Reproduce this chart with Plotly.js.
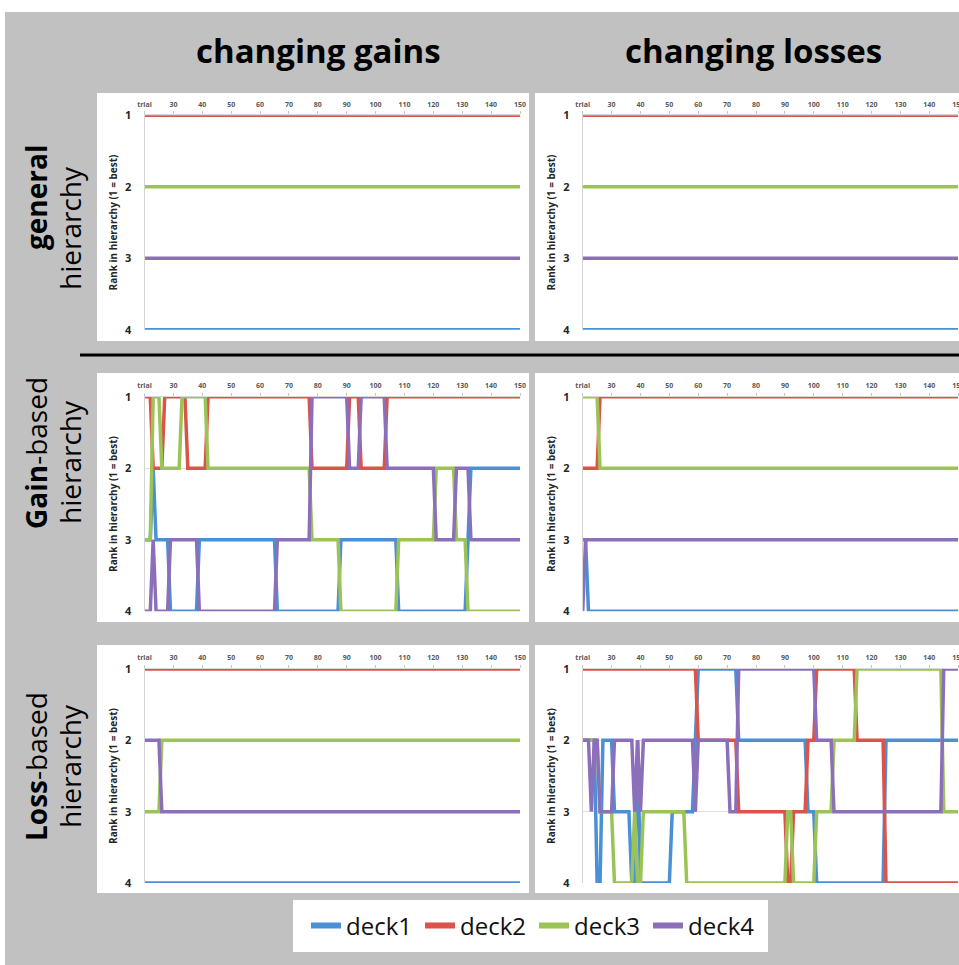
<!DOCTYPE html>
<html>
<head>
<meta charset="utf-8">
<script src="https://cdn.plot.ly/plotly-3.0.1.min.js"></script>
<style>
html,body{margin:0;padding:0;background:#ffffff;overflow:hidden;width:959px;height:965px;}
#chart{position:absolute;left:5px;top:12px;width:1000px;height:953px;}
</style>
</head>
<body>
<div id="chart"></div>
<script>
// ---------------- DATA ----------------
const deckNames = ["deck1", "deck2", "deck3", "deck4"];
const colTitles = ["changing gains", "changing losses"];
const xTickVals = [20, 30, 40, 50, 60, 70, 80, 90, 100, 110, 120, 130, 140, 150];
const xTickText = ["trial", "30", "40", "50", "60", "70", "80", "90", "100", "110", "120", "130", "140", "150"];
const yTickVals = [1, 2, 3, 4];
const yTitle = "Rank in hierarchy (1 = best)";

// general hierarchy, changing gains
const genGain_d1_t = [20, 150]; const genGain_d1_r = [4, 4];
const genGain_d2_t = [20, 150]; const genGain_d2_r = [1, 1];
const genGain_d3_t = [20, 150]; const genGain_d3_r = [2, 2];
const genGain_d4_t = [20, 150]; const genGain_d4_r = [3, 3];
// general hierarchy, changing losses
const genLoss_d1_t = [20, 150]; const genLoss_d1_r = [4, 4];
const genLoss_d2_t = [20, 150]; const genLoss_d2_r = [1, 1];
const genLoss_d3_t = [20, 150]; const genLoss_d3_r = [2, 2];
const genLoss_d4_t = [20, 150]; const genLoss_d4_r = [3, 3];

// gain-based hierarchy, changing gains
const gainGain_d1_t = [20, 22, 23, 24, 28, 29, 38, 39, 65, 66, 87, 88, 107, 108, 131, 133, 150];
const gainGain_d1_r = [3, 3, 2, 3, 3, 4, 4, 3, 3, 4, 4, 3, 3, 4, 4, 2, 2];
const gainGain_d2_t = [20, 22, 23, 26, 27, 34, 35, 41, 42, 77, 78, 90, 91, 94, 95, 103, 104, 150];
const gainGain_d2_r = [1, 1, 2, 2, 1, 1, 2, 2, 1, 1, 2, 2, 1, 1, 2, 2, 1, 1];
const gainGain_d3_t = [20, 22, 23, 25, 26, 32, 33, 41, 42, 77, 78, 87, 88, 107, 108, 120, 121, 127, 128, 131, 132, 150];
const gainGain_d3_r = [3, 3, 1, 1, 2, 2, 1, 1, 2, 2, 3, 3, 4, 4, 3, 3, 2, 2, 3, 3, 4, 4];
const gainGain_d4_t = [20, 22, 23, 24, 28, 29, 38, 39, 65, 66, 77, 78, 90, 91, 94, 95, 103, 104, 120, 121, 127, 128, 132, 133, 150];
const gainGain_d4_r = [4, 4, 3, 4, 4, 3, 3, 4, 4, 3, 3, 1, 1, 2, 2, 1, 1, 2, 2, 3, 3, 2, 2, 3, 3];

// gain-based hierarchy, changing losses
const gainLoss_d1_t = [20, 21, 22, 150]; const gainLoss_d1_r = [3, 3, 4, 4];
const gainLoss_d2_t = [20, 25, 26, 150]; const gainLoss_d2_r = [2, 2, 1, 1];
const gainLoss_d3_t = [20, 25, 26, 150]; const gainLoss_d3_r = [1, 1, 2, 2];
const gainLoss_d4_t = [20, 21, 150];     const gainLoss_d4_r = [4, 3, 3];

// loss-based hierarchy, changing gains
const lossGain_d1_t = [20, 150]; const lossGain_d1_r = [4, 4];
const lossGain_d2_t = [20, 150]; const lossGain_d2_r = [1, 1];
const lossGain_d3_t = [20, 25, 26, 150]; const lossGain_d3_r = [3, 3, 2, 2];
const lossGain_d4_t = [20, 25, 26, 150]; const lossGain_d4_r = [2, 2, 3, 3];

// loss-based hierarchy, changing losses
const lossLoss_d1_t = [20, 24, 25, 26, 27, 30, 31, 36, 37, 38, 39, 40, 50, 51, 58, 59, 60, 73, 74, 97, 98, 100, 101, 124, 125, 150];
const lossLoss_d1_r = [2, 2, 4, 4, 2, 2, 3, 3, 4, 4, 2, 4, 4, 3, 3, 2, 1, 1, 2, 2, 3, 3, 4, 4, 2, 2];
const lossLoss_d2_t = [20, 59, 60, 73, 74, 90, 91, 92, 93, 97, 98, 100, 101, 114, 115, 124, 125, 150];
const lossLoss_d2_r = [1, 1, 2, 2, 3, 3, 4, 4, 3, 3, 2, 2, 1, 1, 2, 2, 4, 4];
const lossLoss_d3_t = [20, 25, 26, 30, 31, 37, 38, 39, 40, 41, 55, 56, 90, 91, 92, 93, 100, 101, 106, 107, 114, 115, 144, 145, 150];
const lossLoss_d3_r = [2, 2, 3, 3, 4, 4, 3, 4, 4, 3, 3, 4, 4, 3, 3, 4, 4, 3, 3, 2, 2, 1, 1, 3, 3];
const lossLoss_d4_t = [20, 22, 23, 24, 25, 26, 30, 31, 37, 38, 39, 40, 41, 58, 59, 60, 70, 71, 73, 74, 100, 101, 106, 107, 144, 145, 150];
const lossLoss_d4_r = [2, 2, 3, 2, 2, 3, 3, 2, 2, 3, 2, 3, 2, 2, 3, 2, 2, 3, 3, 1, 1, 2, 2, 3, 3, 1, 1];

// ---------------- STYLE / LAYOUT ----------------
const deckColors = ["#4a90d6", "#db5349", "#9bc355", "#8c6fba"];
const FONT = "Open Sans, Noto Sans, sans-serif";
const W = 1000, H = 953, OX = 5, OY = 12;
const px2x = p => (p - OX) / W;
const py2y = p => 1 - (p - OY) / H;

const panels = [
  {t: [genGain_d1_t, genGain_d2_t, genGain_d3_t, genGain_d4_t], r: [genGain_d1_r, genGain_d2_r, genGain_d3_r, genGain_d4_r], col: 0, row: 0},
  {t: [genLoss_d1_t, genLoss_d2_t, genLoss_d3_t, genLoss_d4_t], r: [genLoss_d1_r, genLoss_d2_r, genLoss_d3_r, genLoss_d4_r], col: 1, row: 0},
  {t: [gainGain_d1_t, gainGain_d2_t, gainGain_d3_t, gainGain_d4_t], r: [gainGain_d1_r, gainGain_d2_r, gainGain_d3_r, gainGain_d4_r], col: 0, row: 1},
  {t: [gainLoss_d1_t, gainLoss_d2_t, gainLoss_d3_t, gainLoss_d4_t], r: [gainLoss_d1_r, gainLoss_d2_r, gainLoss_d3_r, gainLoss_d4_r], col: 1, row: 1},
  {t: [lossGain_d1_t, lossGain_d2_t, lossGain_d3_t, lossGain_d4_t], r: [lossGain_d1_r, lossGain_d2_r, lossGain_d3_r, lossGain_d4_r], col: 0, row: 2},
  {t: [lossLoss_d1_t, lossLoss_d2_t, lossLoss_d3_t, lossLoss_d4_t], r: [lossLoss_d1_r, lossLoss_d2_r, lossLoss_d3_r, lossLoss_d4_r], col: 1, row: 2}
];

// pixel geometry of plot areas (page px)
const colX = [[144.5, 520], [582.7, 958.2]];
const rowY = [[115.3, 329.7], [396.7, 611.3], [669, 883]];
const boxX = [[97, 529], [535, 1005]];
const boxY = [[93, 341], [373, 622], [645, 893]];

const traces = [];
const layout = {
  width: W, height: H,
  margin: {l: 0, r: 0, t: 0, b: 0},
  paper_bgcolor: "#c1c1c1",
  plot_bgcolor: "#ffffff",
  font: {family: FONT},
  showlegend: true,
  legend: {
    orientation: "h", x: px2x(306), xanchor: "left", y: py2y(926), yanchor: "middle",
    bgcolor: "rgba(0,0,0,0)", borderwidth: 0, font: {family: FONT, size: 24, color: "#111111"},
    entrywidth: 69, itemwidth: 30, tracegroupgap: 0
  },
  shapes: [], annotations: []
};

panels.forEach((p, i) => {
  const n = i + 1;
  const xa = "xaxis" + (n === 1 ? "" : n), ya = "yaxis" + (n === 1 ? "" : n);
  const xr = "x" + (n === 1 ? "" : n), yr = "y" + (n === 1 ? "" : n);
  const cx = colX[p.col], ry = rowY[p.row];
  layout[xa] = {
    domain: [px2x(cx[0]), px2x(cx[1])], anchor: yr, range: [20, 150], side: "top",
    tickmode: "array", tickvals: xTickVals, ticktext: xTickText,
    ticks: "outside", ticklen: 3, tickcolor: "#c8c8c8", ticklabelstandoff: 2,
    tickfont: {family: FONT, size: 7, color: "#595959", weight: "bold"},
    showgrid: false, zeroline: false, showline: true, linecolor: "#d9d9d9", linewidth: 1,
    fixedrange: true
  };
  layout[ya] = {
    domain: [py2y(ry[1]), py2y(ry[0])], anchor: xr, range: [4, 1],
    tickmode: "array", tickvals: yTickVals, ticks: "", ticklabelstandoff: 10,
    tickfont: {family: FONT, size: 11, color: "#262626", weight: "bold"},
    showgrid: true, gridcolor: "#dedede", gridwidth: 1,
    zeroline: false, showline: true, linecolor: "#d4d4d4", linewidth: 1,
    title: {text: yTitle, standoff: 5, font: {family: FONT, size: 10, color: "#262626", weight: "bold"}},
    fixedrange: true
  };
  for (let d = 0; d < 4; d++) {
    traces.push({
      type: "scatter", mode: "lines", x: p.t[d], y: p.r[d], xaxis: xr, yaxis: yr,
      name: deckNames[d], legendgroup: deckNames[d], showlegend: false,
      line: {color: deckColors[d], width: 3.5}, hoverinfo: "skip"
    });
  }
  layout.shapes.push({
    type: "rect", xref: "paper", yref: "paper", layer: "below",
    x0: px2x(boxX[p.col][0]), x1: px2x(boxX[p.col][1]),
    y0: py2y(boxY[p.row][1]), y1: py2y(boxY[p.row][0]),
    fillcolor: "#ffffff", line: {width: 0}
  });
});

// legend box
layout.shapes.push({
  type: "rect", xref: "paper", yref: "paper", layer: "below",
  x0: px2x(293), x1: px2x(768), y0: py2y(952), y1: py2y(900),
  fillcolor: "#ffffff", line: {width: 0}
});

// legend entries
for (let d = 0; d < 4; d++) {
  traces.push({
    type: "scatter", mode: "lines", x: [null], y: [null], name: deckNames[d],
    legendgroup: deckNames[d], showlegend: true,
    line: {color: deckColors[d], width: 6}, hoverinfo: "skip"
  });
}

// separator line between general and gain-based rows
layout.shapes.push({
  type: "line", xref: "paper", yref: "paper", x0: px2x(80), x1: 1, y0: py2y(355), y1: py2y(355),
  line: {color: "#000000", width: 3}
});

// column titles
const colTitleX = [318, 753];
colTitles.forEach((txt, c) => {
  layout.annotations.push({
    xref: "paper", yref: "paper", x: px2x(colTitleX[c]), y: py2y(51), xanchor: "center", yanchor: "middle",
    text: "<b>" + txt + "</b>", showarrow: false, font: {family: FONT, size: 33, color: "#000000"}
  });
});

// row labels (rotated)
const rowLabels = [
  {a: "<b>general</b>", b: "hierarchy", ya: 198, yb: 228},
  {a: "<b>Gain</b>-based", b: "hierarchy", ya: 453, yb: 462},
  {a: "<b>Loss</b>-based", b: "hierarchy", ya: 767, yb: 766}
];
rowLabels.forEach(r => {
  layout.annotations.push({
    xref: "paper", yref: "paper", x: px2x(36), y: py2y(r.ya), xanchor: "center", yanchor: "middle",
    text: r.a, textangle: -90, showarrow: false, font: {family: FONT, size: 28, color: "#000000"}
  });
  layout.annotations.push({
    xref: "paper", yref: "paper", x: px2x(70), y: py2y(r.yb), xanchor: "center", yanchor: "middle",
    text: r.b, textangle: -90, showarrow: false, font: {family: FONT, size: 28, color: "#000000"}
  });
});

Plotly.newPlot("chart", traces, layout, {staticPlot: true, displayModeBar: false});
</script>
</body>
</html>
